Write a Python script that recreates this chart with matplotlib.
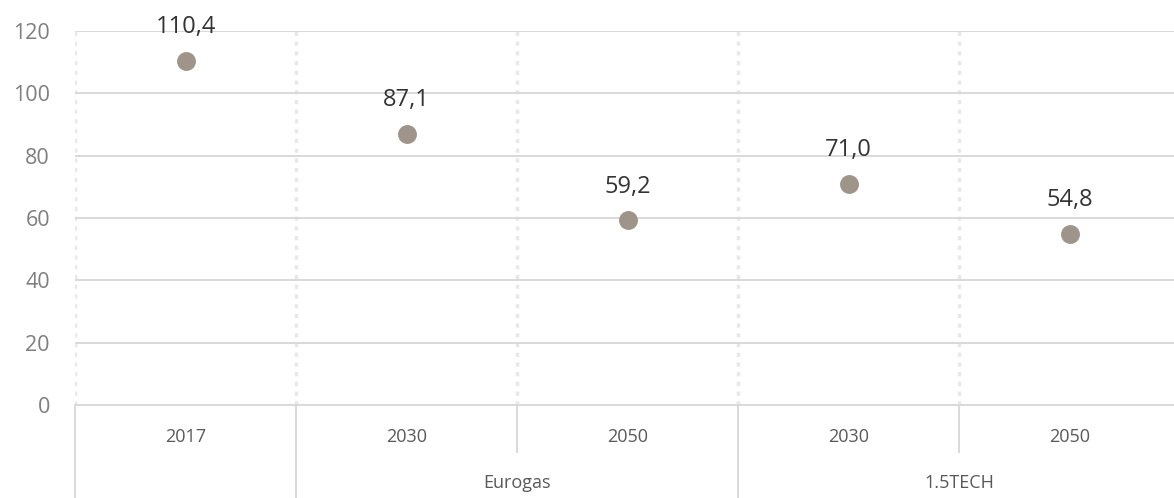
import matplotlib.pyplot as plt
import matplotlib.transforms as mtransforms

# data
years = ["2017", "2030", "2050", "2030", "2050"]
groups = ["", "Eurogas", "1.5TECH"]
group_spans = [(0, 0), (1, 2), (3, 4)]
values = [110.4, 87.1, 59.2, 71.0, 54.8]
labels = ["110,4", "87,1", "59,2", "71,0", "54,8"]

plt.rcParams['font.family'] = ['Open Sans', 'DejaVu Sans']

fig = plt.figure(figsize=(11.74, 4.98), dpi=100)
ax = fig.add_axes([75 / 1174, 93 / 498, 1105 / 1174, 374 / 498])

grid_col = "#D9D9D9"
ax.set_xlim(-0.5, len(years) - 0.5)
ax.set_ylim(0, 120)
ax.set_yticks(range(0, 121, 20))
ax.yaxis.grid(True, color=grid_col, lw=1.4)
ax.set_axisbelow(True)

# dotted vertical lines at category boundaries
for b in range(len(years)):
    ax.axvline(b - 0.5, color="#E8E8E8", lw=2.5, ls=(0, (1.2, 1.6)), zorder=0)

for s in ["top", "right", "left"]:
    ax.spines[s].set_visible(False)
ax.spines["bottom"].set_color(grid_col)
ax.spines["bottom"].set_linewidth(1.4)

ax.tick_params(axis="y", length=0, pad=18, labelsize=15.5, labelcolor="#7F7F7F")
ax.tick_params(axis="x", length=0, labelbottom=False)

ax.scatter(range(len(values)), values, s=185, color="#9E948A", zorder=3, linewidths=0)
for i, (v, t) in enumerate(zip(values, labels)):
    ax.annotate(t, (i, v), xytext=(0, 20), textcoords="offset points",
                ha="center", va="baseline", fontsize=17, color="#333333")

# category axis below
trans = mtransforms.blended_transform_factory(ax.transData, ax.transAxes)
for i, y in enumerate(years):
    ax.text(i, -0.086, y, transform=trans, ha="center", va="center",
            fontsize=13, color="#595959")

for (a, b), g in zip(group_spans, groups):
    ax.plot([a - 0.5, a - 0.5], [0, -0.26], transform=trans, color=grid_col,
            lw=1.4, clip_on=False)
    if g:
        ax.text((a + b) / 2, -0.209, g, transform=trans, ha="center", va="center",
                fontsize=13, color="#595959")
    for k in range(a + 1, b + 1):
        ax.plot([k - 0.5, k - 0.5], [0, -0.126], transform=trans, color=grid_col,
                lw=1.4, clip_on=False)

fig.savefig("out.png", dpi=100)
